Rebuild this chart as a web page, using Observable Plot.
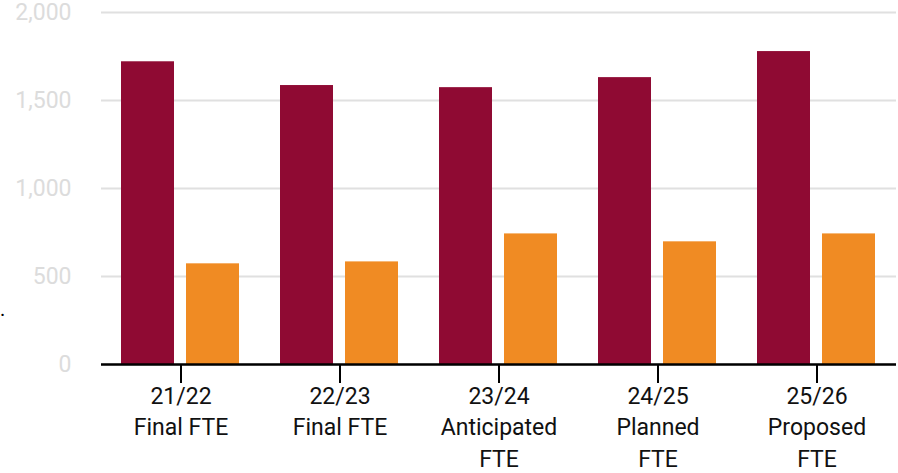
<!DOCTYPE html>
<html>
<head>
<meta charset="utf-8">
<script src="https://cdn.jsdelivr.net/npm/d3@7"></script>
<script src="https://cdn.jsdelivr.net/npm/@observablehq/plot@0.6"></script>
<style>
  html, body { margin: 0; padding: 0; background: #fff; }
  #wrap { position: relative; width: 898px; height: 473px; font-family: Roboto, sans-serif; }
  #dot { position: absolute; left: 0px; top: 299px; font-size: 20px; color: #000; line-height: 20px; }
</style>
</head>
<body>
<div id="wrap"><span id="dot">.</span></div>
<script>
const categories = [
  "21/22\nFinal FTE",
  "22/23\nFinal FTE",
  "23/24\nAnticipated\nFTE",
  "24/25\nPlanned\nFTE",
  "25/26\nProposed\nFTE"
];
const seriesNames = ["Series 1", "Series 2"];
const series1 = [1720, 1585, 1573, 1630, 1778];
const series2 = [572, 583, 742, 697, 742];
const colors = ["#8f0a33", "#f08b23"];
const yTicks = [0, 500, 1000, 1500, 2000];

const data = [];
categories.forEach((c, i) => {
  data.push({cat: c, series: seriesNames[0], value: series1[i]});
  data.push({cat: c, series: seriesNames[1], value: series2[i]});
});

const chart = Plot.plot({
  width: 898,
  height: 473,
  marginLeft: 100,
  marginRight: 2,
  marginTop: 12,
  marginBottom: 109,
  style: {fontFamily: "Roboto, sans-serif", fontSize: "23px", background: "#fff"},
  fx: {domain: categories, padding: 0, label: null},
  x: {domain: seriesNames, paddingInner: 0.182, paddingOuter: 0.297, axis: null},
  y: {domain: [0, 2000], label: null},
  color: {domain: seriesNames, range: colors},
  marks: [
    Plot.gridY(yTicks, {stroke: "#e0e0e0", strokeOpacity: 1, strokeWidth: 2}),
    Plot.barY(data, {fx: "cat", x: "series", y: "value", fill: "series"}),
    Plot.ruleY([0], {stroke: "#000", strokeWidth: 2.5}),
    Plot.axisY(yTicks, {tickSize: 0, tickPadding: 30, tickFormat: d3.format(","), fill: "#dcdcdc", fontSize: 23, label: null}),
    Plot.axisFx({anchor: "bottom", tickSize: 19, tickPadding: -2, fontSize: 23, lineHeight: 1.37, stroke: "#000", strokeWidth: 2, fill: "#111", label: null})
  ]
});
document.getElementById("wrap").appendChild(chart);
</script>
</body>
</html>
